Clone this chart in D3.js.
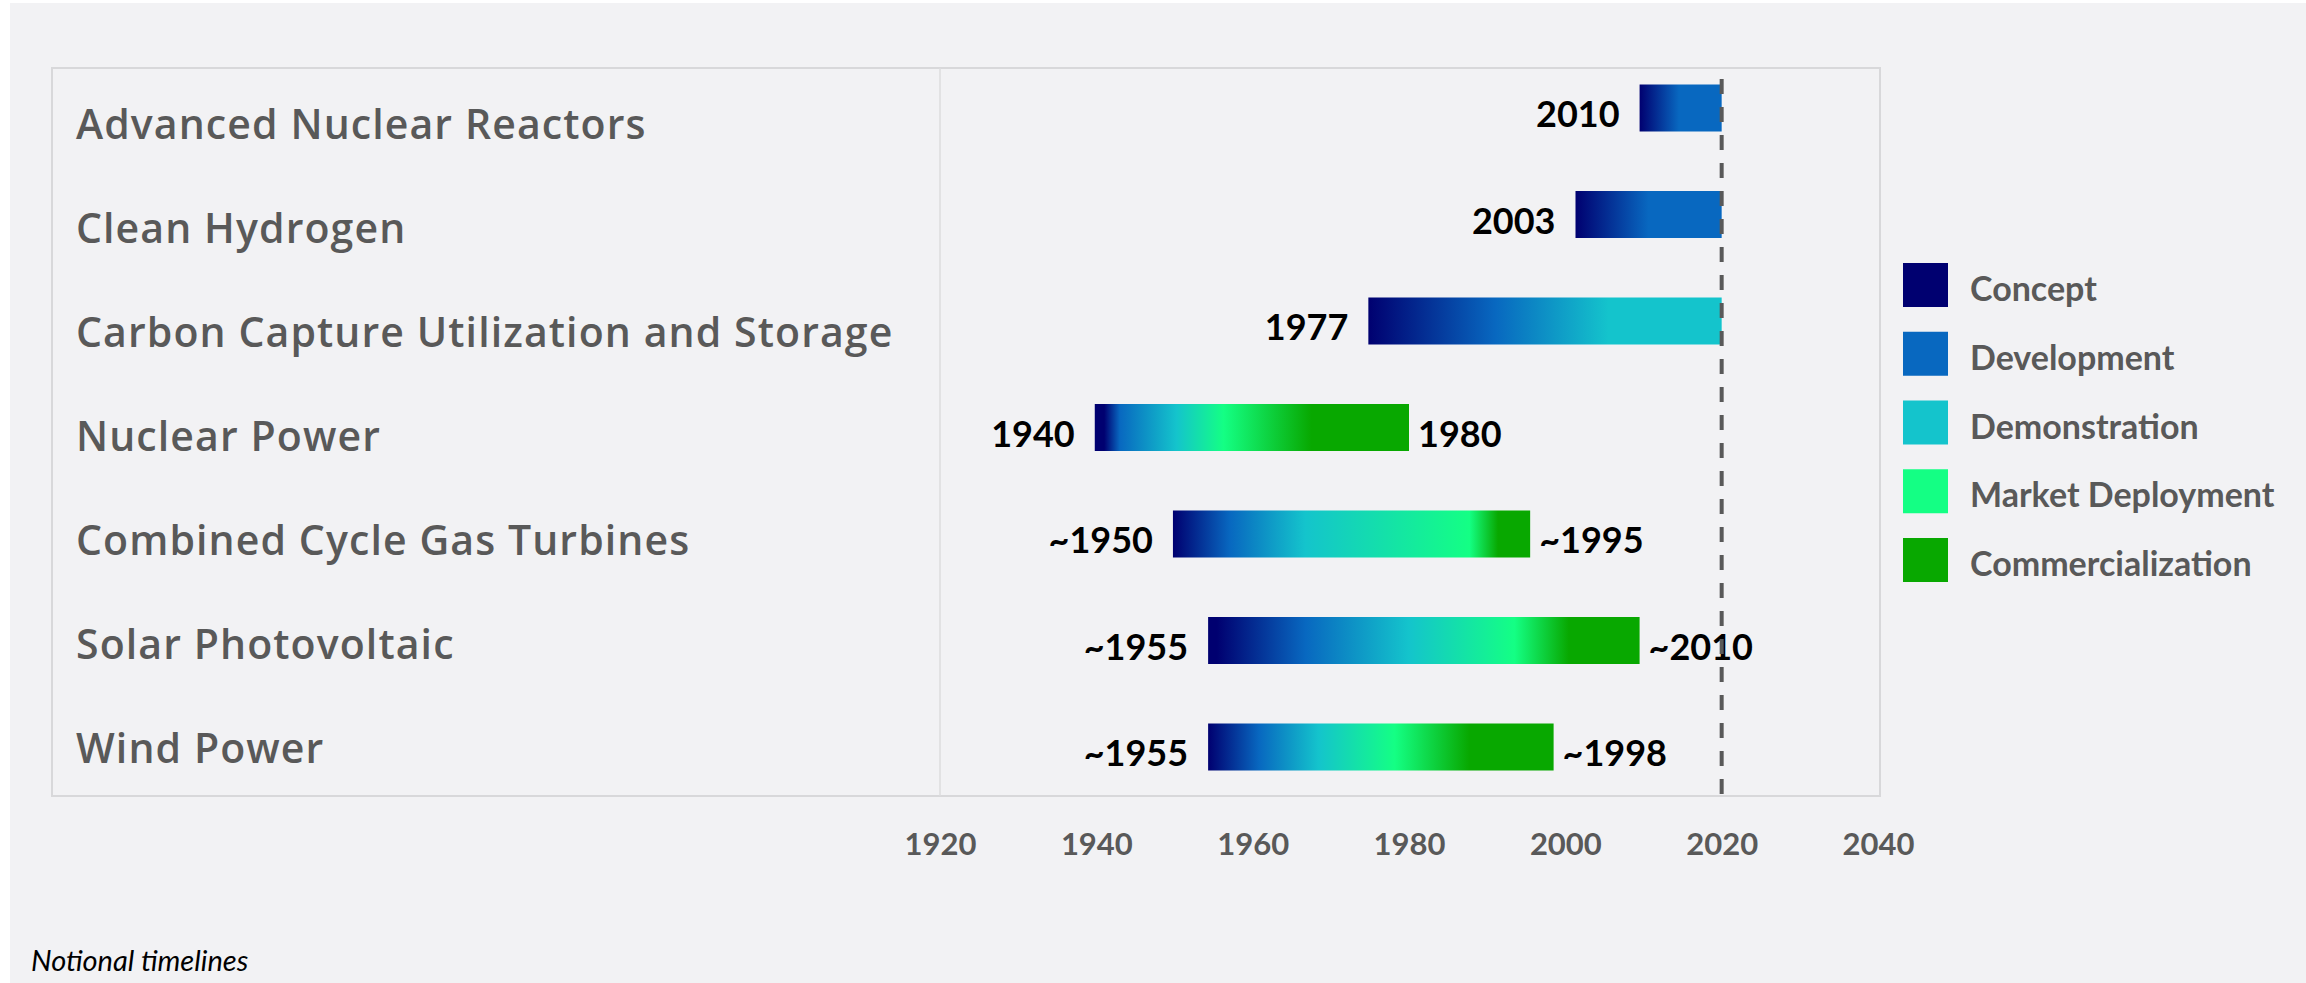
<!DOCTYPE html>
<html>
<head>
<meta charset="utf-8">
<script src="https://cdn.jsdelivr.net/npm/d3@7"></script>
<style>
  html, body { margin: 0; padding: 0; background: #fff; }
  svg { display: block; }
</style>
</head>
<body>
<div id="chart"></div>
<script>
// Technology timelines, top to bottom
const technologies = ['Advanced Nuclear Reactors', 'Clean Hydrogen', 'Carbon Capture Utilization and Storage',
  'Nuclear Power', 'Combined Cycle Gas Turbines', 'Solar Photovoltaic', 'Wind Power'];
const startYears = [2009.5, 2001.3, 1974.8, 1939.8, 1949.8, 1954.3, 1954.3];
const endYears = [2020, 2020, 2020, 1980, 1995.5, 2009.5, 1998.5];
const startLabels = ['2010', '2003', '1977', '1940', '~1950', '~1955', '~1955'];
const endLabels = ['', '', '', '1980', '~1995', '~2010', '~1998'];

// where along each bar a phase colour is reached (null = phase never reached)
const phaseStops = [
  [0, 0.48, null, null, null],
  [0, 0.5, null, null, null],
  [0, 0.36, 0.68, null, null],
  [0.03, 0.08, 0.26, 0.41, 0.69],
  [0, 0.16, 0.37, 0.83, 0.91],
  [0.02, 0.226, 0.465, 0.71, 0.836],
  [0, 0.148, 0.32, 0.54, 0.756]
];
const phases = ['Concept', 'Development', 'Demonstration', 'Market Deployment', 'Commercialization'];
const phaseColors = ['#000070', '#0868c0', '#14c4cc', '#14ff84', '#08a800'];

const yearTicks = [1920, 1940, 1960, 1980, 2000, 2020, 2040];
const todayYear = 2020;

const W = 2306, H = 983;
const box = { left: 52, top: 68, right: 1880, bottom: 796, divider: 940 };
const grey = '#595959';
const calibri = 'Lato, "Open Sans", sans-serif';
const gothic = '"Open Sans", "Noto Sans", sans-serif';

const svg = d3.select('#chart').append('svg')
  .attr('width', W)
  .attr('height', H);

svg.append('rect')
  .attr('x', 10).attr('y', 3)
  .attr('width', W - 10).attr('height', H - 3)
  .attr('fill', '#f2f2f4');

// scales
const x = d3.scaleLinear().domain([1920, 2040]).range([box.divider, 1878]);
const yLabel = d3.scaleBand().domain(technologies).range([box.top, box.bottom]);
const yBar = d3.scalePoint().domain(technologies).range([108, 747]);
const barH = 47;

// frame
svg.append('rect')
  .attr('x', box.left).attr('y', box.top)
  .attr('width', box.right - box.left).attr('height', box.bottom - box.top)
  .attr('fill', 'none')
  .attr('stroke', '#d8d8da')
  .attr('stroke-width', 2);
svg.append('line')
  .attr('x1', box.divider).attr('x2', box.divider)
  .attr('y1', box.top).attr('y2', box.bottom)
  .attr('stroke', '#dcdcde')
  .attr('stroke-width', 1.5);

// technology names
svg.append('g')
  .selectAll('text')
  .data(technologies)
  .join('text')
  .attr('x', 76)
  .attr('y', d => yLabel(d) + yLabel.bandwidth() / 2 + 19)
  .attr('fill', grey)
  .style('font-family', gothic)
  .style('font-weight', 600)
  .style('font-size', '41px')
  .style('letter-spacing', '1.1px')
  .text(d => d);

// gradients, one per bar
const defs = svg.append('defs');
technologies.forEach((t, i) => {
  const grad = defs.append('linearGradient')
    .attr('id', 'grad-' + i)
    .attr('x1', '0%').attr('x2', '100%')
    .attr('y1', '0%').attr('y2', '0%');
  phaseStops[i].forEach((off, p) => {
    if (off === null) return;
    grad.append('stop')
      .attr('offset', off)
      .attr('stop-color', phaseColors[p]);
  });
});

const rows = technologies.map((t, i) => ({
  name: t, i, start: startYears[i], end: endYears[i],
  startLabel: startLabels[i], endLabel: endLabels[i]
}));

// bars
svg.append('g')
  .selectAll('rect')
  .data(rows)
  .join('rect')
  .attr('x', d => x(d.start))
  .attr('y', d => yBar(d.name) - barH / 2)
  .attr('width', d => x(d.end) - x(d.start))
  .attr('height', barH)
  .attr('fill', d => `url(#grad-${d.i})`);

// year labels
const labelStyle = sel => sel
  .attr('y', d => yBar(d.name) + 19)
  .attr('fill', '#000')
  .style('font-family', calibri)
  .style('font-weight', 700)
  .style('font-size', '36px');

svg.append('g')
  .selectAll('text')
  .data(rows)
  .join('text')
  .attr('x', d => x(d.start) - 20)
  .attr('text-anchor', 'end')
  .call(labelStyle)
  .text(d => d.startLabel);

svg.append('g')
  .selectAll('text')
  .data(rows.filter(d => d.endLabel))
  .join('text')
  .attr('x', d => x(d.end) + 9)
  .attr('text-anchor', 'start')
  .call(labelStyle)
  .text(d => d.endLabel);

// "today" marker
svg.append('line')
  .attr('x1', x(todayYear)).attr('x2', x(todayYear))
  .attr('y1', 79).attr('y2', box.bottom)
  .attr('stroke', grey)
  .attr('stroke-width', 4)
  .attr('stroke-dasharray', '15,13');

// x axis
const xAxis = svg.append('g')
  .attr('transform', `translate(0,${box.bottom})`)
  .call(d3.axisBottom(x).tickValues(yearTicks).tickFormat(d3.format('d')).tickSize(0).tickPadding(37));
xAxis.select('.domain').remove();
xAxis.selectAll('text')
  .attr('fill', grey)
  .style('font-family', calibri)
  .style('font-weight', 700)
  .style('font-size', '31px');

// legend
const legY = d3.scalePoint().domain(phases).range([285, 560]);
const legend = svg.append('g');
legend.selectAll('rect')
  .data(phases)
  .join('rect')
  .attr('x', 1903)
  .attr('y', d => legY(d) - 22)
  .attr('width', 45)
  .attr('height', 44)
  .attr('fill', (d, i) => phaseColors[i]);
legend.selectAll('text')
  .data(phases)
  .join('text')
  .attr('x', 1970)
  .attr('y', d => legY(d) + 16)
  .attr('fill', grey)
  .style('font-family', calibri)
  .style('font-weight', 700)
  .style('font-size', '34px')
  .text(d => d);

// footnote
svg.append('text')
  .attr('x', 31)
  .attr('y', 971)
  .attr('fill', '#000')
  .style('font-family', calibri)
  .style('font-style', 'italic')
  .style('font-size', '29px')
  .text('Notional timelines');
</script>
</body>
</html>
